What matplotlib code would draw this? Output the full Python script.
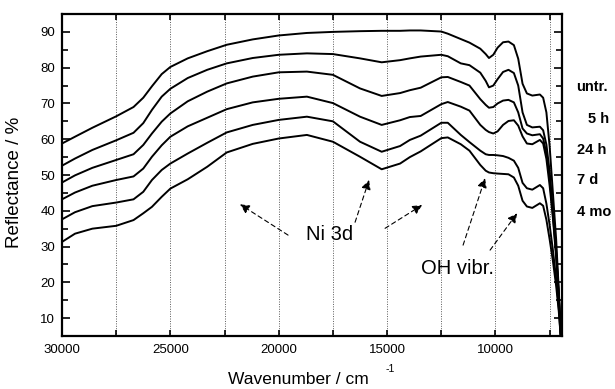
import matplotlib
matplotlib.use("Agg")
import matplotlib.pyplot as plt
from matplotlib.ticker import MultipleLocator

plt.rcParams['font.family'] = ['Liberation Sans', 'DejaVu Sans']

wavenumber = [30000, 29400, 28600, 27500, 26700, 26250, 25850, 25400, 25000, 24200,
              23300, 22400, 21200, 20000, 18700, 17500, 16250, 15250, 14400, 13950,
              13450, 12500, 12200, 11600, 11200, 10700, 10450, 10300, 10100, 9900,
              9650, 9400, 9150, 8950, 8750, 8550, 8300, 7950, 7800, 7650,
              7500, 7350, 7200, 7080, 6980]

refl_untr = [58.8, 60.7, 63.2, 66.4, 69.0, 71.6, 74.8, 78.2, 80.2, 82.6,
             84.6, 86.4, 87.9, 89.0, 89.7, 90.0, 90.2, 90.3, 90.3, 90.4,
             90.4, 90.1, 89.5, 88.0, 87.0, 85.3, 83.8, 82.7, 83.6, 85.6,
             87.1, 87.3, 86.3, 82.5, 75.5, 72.8, 72.2, 72.5, 71.6, 67.5,
             58, 45, 32, 18, 5]
refl_5h = [52.6, 54.6, 57.0, 59.7, 61.8, 64.5, 68.2, 71.9, 74.1, 77.1,
           79.4, 81.2, 82.7, 83.6, 84.0, 83.8, 82.6, 81.5, 82.1, 82.6,
           83.1, 83.6, 83.2, 81.2, 80.7, 78.6, 76.3, 74.5, 75.0, 76.8,
           78.8, 79.4, 78.5, 75.0, 67.5, 64.0, 63.3, 63.5, 62.5, 58.5,
           51, 40, 29, 17, 5]
refl_24h = [47.9, 49.9, 52.0, 54.2, 55.8, 58.4, 61.6, 64.9, 67.2, 70.6,
            73.3, 75.6, 77.5, 78.7, 78.9, 78.0, 74.2, 72.1, 72.9, 73.7,
            74.4, 77.3, 77.4, 76.0, 75.0, 71.2, 69.6, 68.8, 69.0, 70.0,
            70.8, 71.0, 70.3, 67.5, 63.0, 61.6, 61.1, 61.4, 60.2, 56,
            49, 39, 28, 16, 5]
refl_7d = [43.2, 45.1, 47.0, 48.6, 49.6, 51.8, 55.1, 58.3, 60.7, 63.6,
           66.0, 68.4, 70.3, 71.3, 71.9, 70.1, 66.3, 64.0, 65.3, 66.2,
           66.5, 69.8, 70.4, 69.1, 68.0, 64.0, 62.6, 62.0, 61.6, 62.2,
           64.0, 65.1, 65.3, 63.8, 60.8, 58.8, 58.6, 59.8, 58.8, 54.5,
           47, 38, 27, 16, 5]
refl_c5 = [37.6, 39.6, 41.3, 42.3, 43.2, 45.3, 48.6, 51.4, 53.2, 56.0,
           59.0, 61.9, 64.0, 65.4, 66.3, 65.0, 59.3, 56.5, 58.1, 59.8,
           61.0, 64.6, 64.6, 61.2, 59.2, 56.8, 55.8, 55.6, 55.6, 55.5,
           55.3, 54.8, 54.0, 52.0, 47.8, 46.3, 45.9, 47.2, 46.3, 42,
           36, 29, 21, 13, 4]
refl_c6 = [31.3, 33.6, 35.0, 35.8, 37.4, 39.3, 41.1, 43.9, 46.2, 48.8,
           52.3, 56.3, 58.7, 60.2, 61.2, 59.3, 55.1, 51.6, 53.2, 55.0,
           56.6, 60.3, 60.5, 58.6, 56.8, 52.8, 51.2, 50.7, 50.5, 50.4,
           50.3, 50.2, 49.3, 47.0, 42.8, 41.2, 40.8, 42.1, 41.4, 37.5,
           32, 26, 19, 12, 4]

series = [refl_untr, refl_5h, refl_24h, refl_7d, refl_c5, refl_c6]

series_labels = ["untr.", "5 h", "24 h", "7 d", "4 mo"]
label_px = [(576, 87), (588, 119), (577, 150), (577, 180), (577, 212)]

x_major = [30000, 25000, 20000, 15000, 10000]

W, H = 615, 389
fig = plt.figure(figsize=(W / 100, H / 100), dpi=100)
ax = fig.add_axes([62 / W, 1 - 336 / H, 500 / W, 322 / H])

for s in series:
    ax.plot(wavenumber, s, color='black', lw=1.4, solid_joinstyle='round')

ax.set_xlim(30000, 6930)
ax.set_ylim(5, 95)

ax.set_xticks(x_major)
ax.set_xticklabels([str(v) for v in x_major])
ax.xaxis.set_minor_locator(MultipleLocator(2500))
ax.yaxis.set_minor_locator(MultipleLocator(5))
ax.set_yticks(range(10, 91, 10))

ax.tick_params(axis='both', which='both', direction='in', top=True, right=True,
               labelsize=9.5, width=1.2)
ax.tick_params(axis='y', which='major', length=6, pad=5)
ax.tick_params(axis='y', which='minor', length=4)
ax.tick_params(axis='x', which='both', length=4.5, pad=6)

for sp in ax.spines.values():
    sp.set_linewidth(1.6)

ax.grid(axis='x', which='both', linestyle=(0, (1, 1.5)), linewidth=0.7, color='0.35')

ax.set_ylabel("Reflectance / %", fontsize=13.5)
ax.yaxis.set_label_coords(-0.078, 0.477)
ax.set_xlabel("Wavenumber / cm", fontsize=12.5)
ax.xaxis.set_label_coords(0.472, -0.113)
fig.text(390 / W, 1 - 369 / H, "-1", fontsize=7.5, ha='center', va='center')

for lab, (px, py) in zip(series_labels, label_px):
    fig.text(px / W, 1 - py / H, lab, fontsize=10.5, fontweight='bold',
             ha='left', va='center')

ax.text(17650, 33.5, "Ni 3d", fontsize=14.5, ha='center', va='center')
ax.text(11770, 23.9, "OH vibr.", fontsize=14.5, ha='center', va='center')

arrows = [((19570, 33.2), (21785, 41.8)),
          ((16478, 36.8), (15832, 48.6)),
          ((15093, 35.1), (13386, 41.6)),
          ((11494, 30.4), (10478, 49.1)),
          ((10248, 29.0), (9002, 39.3))]
for tail, head in arrows:
    ax.annotate("", xy=head, xytext=tail,
                arrowprops=dict(arrowstyle='-|>', linestyle=(0, (4, 3)), lw=0.8,
                                color='black', mutation_scale=14,
                                shrinkA=0, shrinkB=0))

fig.savefig("out.png", dpi=100)
